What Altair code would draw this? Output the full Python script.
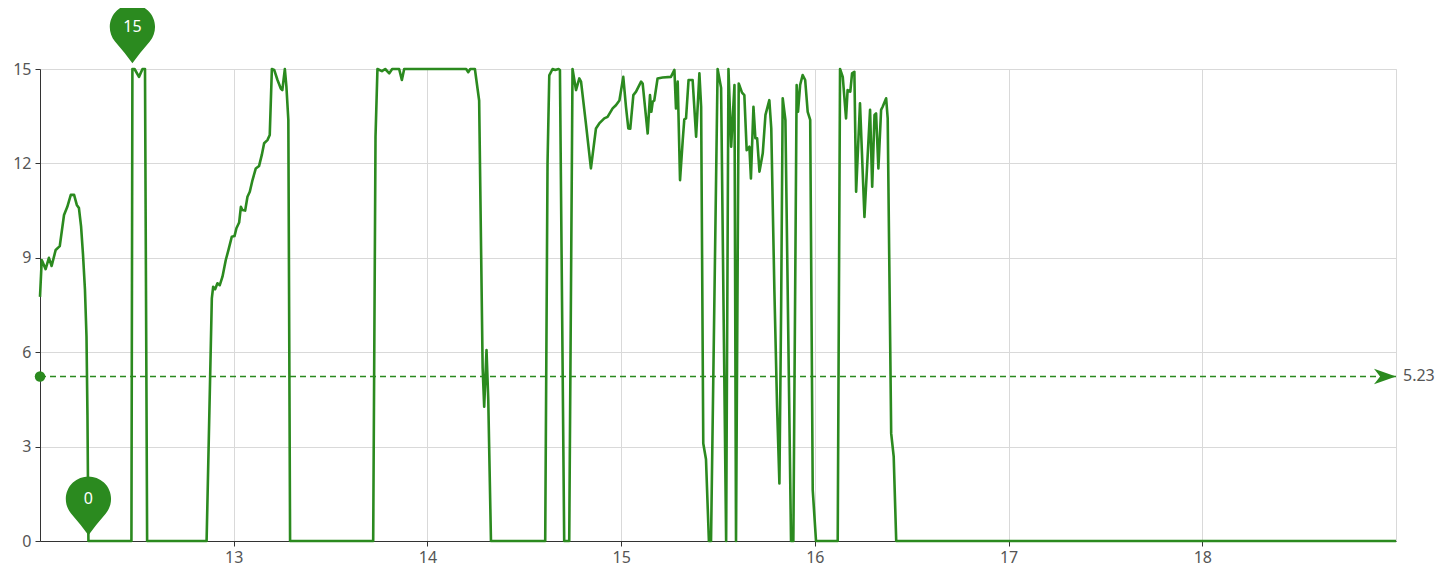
import altair as alt
import pandas as pd

HOURS = [
    12.000, 12.009, 12.029, 12.046, 12.060, 12.081, 12.102, 12.124, 12.141, 12.159,
    12.176, 12.190, 12.201, 12.212, 12.222, 12.232, 12.240, 12.245, 12.250, 12.472,
    12.477, 12.488, 12.511, 12.529, 12.542, 12.553, 12.860, 12.887, 12.894, 12.904,
    12.916, 12.928, 12.942, 12.959, 12.973, 12.990, 13.004, 13.014, 13.028, 13.037,
    13.045, 13.059, 13.071, 13.083, 13.097, 13.114, 13.131, 13.145, 13.157, 13.174,
    13.186, 13.197, 13.209, 13.226, 13.243, 13.251, 13.264, 13.272, 13.282, 13.291,
    13.720, 13.732, 13.742, 13.765, 13.782, 13.803, 13.818, 13.854, 13.868, 13.880,
    14.200, 14.211, 14.221, 14.245, 14.267, 14.285, 14.293, 14.305, 14.314, 14.328,
    14.608, 14.620, 14.629, 14.646, 14.660, 14.677, 14.684, 14.706, 14.732, 14.749,
    14.767, 14.784, 14.793, 14.818, 14.844, 14.870, 14.887, 14.913, 14.930, 14.956,
    14.973, 14.991, 15.011, 15.025, 15.037, 15.047, 15.063, 15.077, 15.103, 15.111,
    15.137, 15.149, 15.156, 15.163, 15.171, 15.188, 15.214, 15.257, 15.275, 15.283,
    15.292, 15.304, 15.318, 15.326, 15.335, 15.348, 15.369, 15.387, 15.404, 15.413,
    15.424, 15.438, 15.453, 15.464, 15.498, 15.516, 15.542, 15.554, 15.568, 15.585,
    15.593, 15.607, 15.624, 15.636, 15.648, 15.662, 15.670, 15.683, 15.693, 15.702,
    15.714, 15.731, 15.745, 15.765, 15.775, 15.791, 15.805, 15.817, 15.826, 15.834,
    15.848, 15.877, 15.889, 15.906, 15.913, 15.924, 15.937, 15.950, 15.963, 15.976,
    15.989, 16.006, 16.118, 16.130, 16.144, 16.161, 16.169, 16.183, 16.192, 16.204,
    16.213, 16.233, 16.256, 16.285, 16.296, 16.308, 16.316, 16.328, 16.342, 16.350,
    16.368, 16.376, 16.394, 16.407, 16.420, 19.000,
]
VALUES = [
    7.76, 8.93, 8.64, 9.00, 8.74, 9.25, 9.37, 10.36, 10.62, 11.00,
    11.00, 10.68, 10.58, 10.00, 9.10, 8.00, 6.50, 4.00, 0.00, 0.00,
    15.00, 15.00, 14.75, 15.00, 15.00, 0.00, 0.00, 7.71, 8.08, 8.00,
    8.19, 8.13, 8.40, 8.93, 9.25, 9.67, 9.69, 9.94, 10.12, 10.62,
    10.52, 10.50, 10.94, 11.10, 11.47, 11.84, 11.92, 12.27, 12.64, 12.74,
    12.90, 15.00, 14.97, 14.65, 14.38, 14.33, 15.00, 14.44, 13.38, 0.00,
    0.00, 12.85, 15.00, 14.93, 15.00, 14.86, 15.00, 15.00, 14.65, 15.00,
    15.00, 14.90, 15.00, 15.00, 14.00, 5.50, 4.27, 6.07, 4.50, 0.00,
    0.00, 12.00, 14.80, 15.00, 14.97, 15.00, 14.97, 0.00, 0.00, 15.00,
    14.33, 14.70, 14.60, 13.27, 11.84, 13.11, 13.27, 13.43, 13.48, 13.75,
    13.85, 14.00, 14.75, 13.80, 13.11, 13.10, 14.17, 14.28, 14.60, 14.54,
    12.95, 14.17, 13.64, 13.96, 14.00, 14.70, 14.73, 14.75, 14.97, 13.75,
    14.60, 11.47, 12.74, 13.40, 13.43, 14.65, 14.65, 12.85, 14.86, 13.80,
    3.10, 2.60, 0.00, 0.00, 15.00, 14.40, 0.00, 15.00, 12.53, 14.49,
    0.00, 14.54, 14.25, 14.17, 12.42, 12.53, 11.52, 13.80, 12.80, 12.80,
    11.74, 12.32, 13.54, 14.01, 13.11, 7.98, 4.27, 1.83, 7.45, 14.07,
    13.38, 0.00, 0.00, 14.49, 13.64, 14.49, 14.81, 14.65, 13.64, 13.38,
    1.62, 0.00, 0.00, 15.00, 14.75, 13.43, 14.33, 14.28, 14.86, 14.91,
    11.10, 13.91, 10.30, 13.70, 11.26, 13.54, 13.59, 11.84, 13.70, 13.80,
    14.07, 13.43, 3.42, 2.68, 0.00, 0.00,
]
AVERAGE = 5.23
X_DOMAIN = [12, 19]
Y_DOMAIN = [0, 15]
X_TICKS = [13, 14, 15, 16, 17, 18]
Y_TICKS = [0, 3, 6, 9, 12, 15]

GREEN = "#2b8a1f"
FONT = "Noto Sans"
LABEL_COLOR = "#555555"

df = pd.DataFrame({"t": HOURS, "v": VALUES})
imax = df["v"].idxmax()
imin = df["v"].idxmin()
pins_df = pd.DataFrame({
    "t": [df.loc[imax, "t"], df.loc[imin, "t"]],
    "v": [df.loc[imax, "v"], df.loc[imin, "v"]],
    "label": [f"{df.loc[imax, 'v']:g}", f"{df.loc[imin, 'v']:g}"],
})
avg_df = pd.DataFrame({"t0": [X_DOMAIN[0]], "t1": [X_DOMAIN[1]], "v": [AVERAGE], "label": [f"{AVERAGE}"]})

x_axis = alt.Axis(values=X_TICKS, title=None, grid=True, tickSize=5, labelPadding=3)
y_axis = alt.Axis(values=Y_TICKS, title=None, grid=True, tickSize=5, labelPadding=4)


def xq(field):
    return alt.X(f"{field}:Q", scale=alt.Scale(domain=X_DOMAIN, nice=False, zero=False), axis=x_axis)


def yq(field):
    return alt.Y(f"{field}:Q", scale=alt.Scale(domain=Y_DOMAIN, nice=False), axis=y_axis)


PIN_PATH = "M0,-0.2 Q-0.25,-0.55 -0.6,-0.95 A0.78,0.78 0 1 1 0.6,-0.95 Q0.25,-0.55 0,-0.2 Z"
ARROW_PATH = "M0,0 L-2,-0.7 L-1.45,0 L-2,0.7 Z"

line = alt.Chart(df).mark_line(color=GREEN, strokeWidth=2.6, strokeJoin="round").encode(
    x=xq("t"), y=yq("v")
)
avg_rule = alt.Chart(avg_df).mark_rule(color=GREEN, strokeDash=[6, 4], strokeWidth=1.5).encode(
    x=xq("t0"), x2="t1:Q", y=yq("v")
)
avg_dot = alt.Chart(avg_df).mark_point(shape="circle", filled=True, size=110, color=GREEN, opacity=1).encode(
    x=xq("t0"), y=yq("v")
)
avg_arrow = alt.Chart(avg_df).mark_point(shape=ARROW_PATH, filled=True, size=484, color=GREEN, opacity=1, strokeWidth=0).encode(
    x=xq("t1"), y=yq("v")
)
avg_text = alt.Chart(avg_df).mark_text(align="left", baseline="middle", dx=7, font=FONT, fontSize=16, color=LABEL_COLOR).encode(
    x=xq("t1"), y=yq("v"), text="label:N"
)
pins = alt.Chart(pins_df).mark_point(shape=PIN_PATH, filled=True, size=3364, color=GREEN, opacity=1, strokeWidth=0).encode(
    x=xq("t"), y=yq("v")
)
pin_text = alt.Chart(pins_df).mark_text(align="center", baseline="middle", dy=-42, font=FONT, fontSize=16, color="white").encode(
    x=xq("t"), y=yq("v"), text="label:N"
)

chart = (
    alt.layer(line, avg_rule, avg_dot, avg_arrow, avg_text, pins, pin_text)
    .properties(
        width=1356,
        height=472,
        autosize=alt.AutoSizeParams(type="none"),
        padding={"left": 32, "top": 61, "right": 52, "bottom": 30},
    )
    .configure_view(stroke="#d9d9d9", strokeWidth=1)
    .configure_axis(
        labelFont=FONT,
        labelFontSize=16,
        labelColor=LABEL_COLOR,
        domainColor="#333333",
        domainWidth=1,
        tickColor="#333333",
        gridColor="#d9d9d9",
        gridWidth=1,
    )
)

chart.save("out.html", embed_options={"renderer": "svg", "actions": False})
